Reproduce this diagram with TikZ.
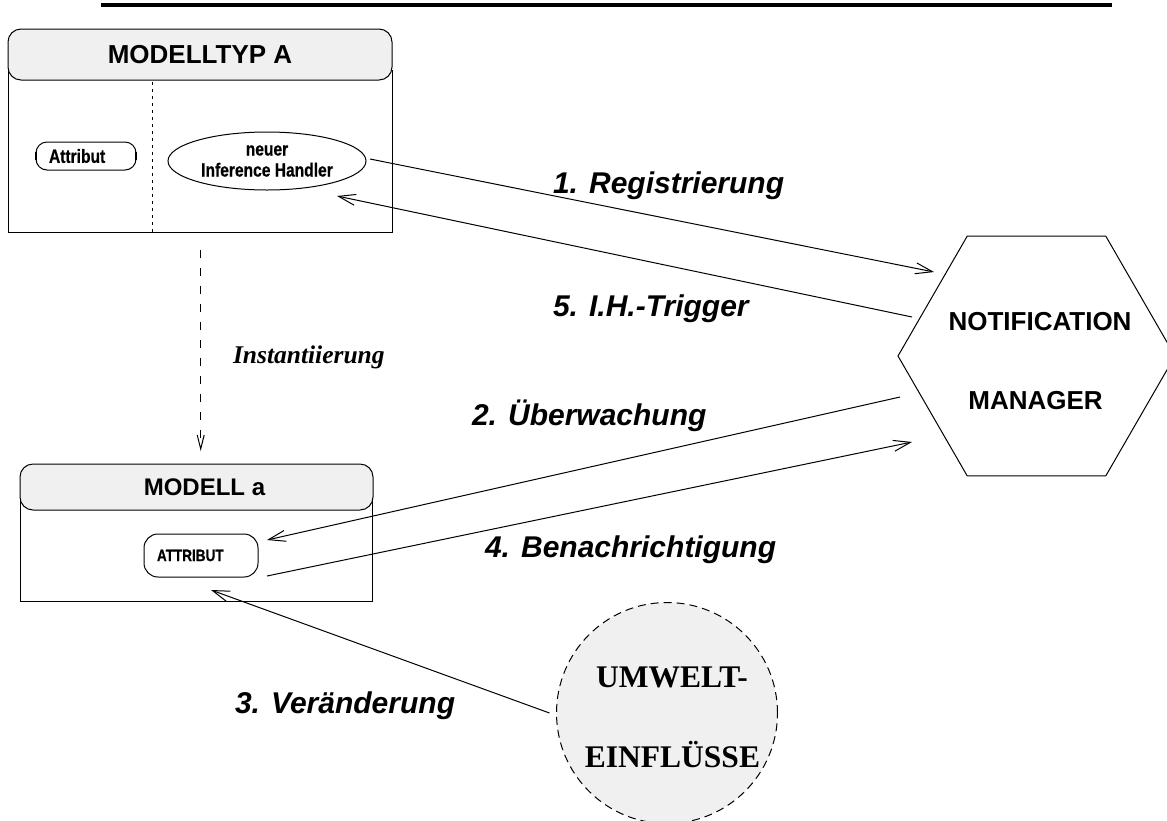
\documentclass[tikz,border=0pt]{standalone}
\usepackage{fontspec}
\setmainfont{Liberation Serif}
\newfontfamily\sansfam{Liberation Sans}
\newfontfamily\narrowfam[FakeStretch=0.82,FakeBold=0.6]{Liberation Sans Bold}
\usetikzlibrary{arrows.meta,shapes.geometric,calc}
\definecolor{paneGray}{RGB}{240,240,240}

\begin{document}
\begin{tikzpicture}[x=1pt,y=-1pt,
  every node/.style={inner sep=0pt, outer sep=0pt},
  barb/.style={line width=1pt, -{Straight Barb[length=17pt,width=11pt]}},
  head/.style={draw, line width=1pt, rounded corners=13pt, fill=paneGray,
    font=\sansfam\bfseries\fontsize{26}{30}\selectfont},
  body/.style={draw, line width=1pt},
  pill/.style={draw, line width=1pt, align=left, inner xsep=13pt,
    font=\narrowfam\fontsize{19}{21}\selectfont},
  msglabel/.style={anchor=base west,
    font=\sansfam\bfseries\itshape\fontsize{30}{36}\selectfont},
  hextext/.style={anchor=base, font=\sansfam\bfseries\fontsize{26}{30}\selectfont},
  envtext/.style={anchor=base, font=\bfseries\fontsize{31.5}{36}\selectfont},
  divider/.style={line width=1pt, dash pattern=on 3pt off 4pt}
]
\useasboundingbox (0,0) rectangle (1167,820);

% title rule
\draw[line width=4pt] (101,5.3) -- (1112,5.3);

% model type with its two compartments
\node[body, minimum width=384pt, minimum height=162pt] (mtaBody) at (200,151) {};
\node[head, minimum width=384pt, minimum height=51pt] (mtaHead) at (200,54.5) {MODELLTYP A};
\draw[divider] ([shift={(-48,0)}]mtaBody.south) -- ([shift={(-48,0)}]mtaBody.south |- mtaHead.south);

\node[pill, rounded corners=11pt, minimum height=28pt, text width=74pt] (attrA) at (86,156) {Attribut};
\draw[line width=2pt] ([shift={(0,-4)}]attrA.west) -- ([shift={(0,4)}]attrA.west);
\draw[line width=2pt] ([shift={(0,-4)}]attrA.east) -- ([shift={(0,4)}]attrA.east);

\node[draw, ellipse, line width=1pt, minimum width=198pt, minimum height=58pt, align=center,
  font=\narrowfam\fontsize{19}{21}\selectfont] (ih) at (267,161) {neuer\\Inference Handler};

% model instance
\node[body, minimum width=352pt, minimum height=101pt] (maBody) at (196,550.5) {};
\node[head, minimum width=353pt, minimum height=46pt,
  font=\sansfam\bfseries\fontsize{24}{28}\selectfont] (maHead) at (196.5,487) {\hspace*{16pt}MODELL a};
\node[pill, rounded corners=14pt, minimum height=43pt, text width=88pt,
  font=\narrowfam\fontsize{16.5}{20}\selectfont] (attrB) at (201,555.5) {ATTRIBUT};

% notification manager
\node[draw, regular polygon, regular polygon sides=6, minimum size=277pt, line width=1pt] (nm) at (1036.5,356) {};
\node[hextext] (nmA) at (1040,330) {NOTIFICATION};
\node[hextext] (nmB) at (1035.5,409) {MANAGER};

% environment
\node[circle, draw, line width=1pt, dash pattern=on 8pt off 5pt, fill=paneGray, minimum size=221pt] (env) at (667,713) {};
\node[envtext] (envA) at (672,687) {UMWELT-};
\node[envtext] (envB) at (672.5,767) {EINFLÜSSE};

% instantiation
\draw[line width=1pt, dash pattern=on 8pt off 10pt, -{Straight Barb[length=14pt,width=7pt]}]
  ([shift={(0.7,18)}]mtaBody.south) -- ([shift={(4.2,-13)}]maHead.north);
\node[anchor=base west, font=\bfseries\itshape\fontsize{25.5}{30}\selectfont] (inst) at (233,363) {Instantiierung};

% message flow
\draw[barb] ([shift={(4,-2)}]ih.east) -- ([shift={(-102.5,-84)}]nm.center);
\draw[barb] ([shift={(-124.5,-39)}]nm.center) -- ([shift={(70,35)}]ih.center);
\draw[barb] ([shift={(-136.5,41)}]nm.center) -- ([shift={(9,-15.5)}]attrB.east);
\draw[barb] ([shift={(9,20.5)}]attrB.east) -- ([shift={(-124.5,86)}]nm.center);
\draw[barb] ([shift={(-7,0)}]env.west) -- ([shift={(10,13)}]attrB.south);

\node[msglabel] (l1) at (553,193) {1. Registrierung};
\node[msglabel] (l5) at (553,316) {5. I.H.-Trigger};
\node[msglabel] (l2) at (472,425) {2. Überwachung};
\node[msglabel] (l4) at (485,557) {4. Benachrichtigung};
\node[msglabel] (l3) at (235,713) {3. Veränderung};
\end{tikzpicture}
\end{document}
